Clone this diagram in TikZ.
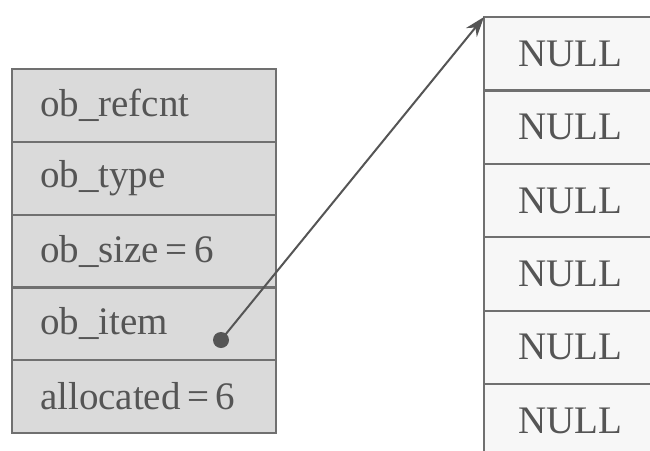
\documentclass[tikz,border=0pt]{standalone}
\usepackage{fontspec}
\setmainfont{Liberation Serif}
\usepackage{xcolor}
\usepackage{tikz}
\usetikzlibrary{
  arrows.meta,
  positioning
}
\definecolor{cellgray}{HTML}{DADADA}
\definecolor{cellwhite}{HTML}{F7F7F7}
\definecolor{edgegray}{HTML}{707070}
\definecolor{inkgray}{HTML}{555555}

\begin{document}
\begin{tikzpicture}[x=1pt, y=-1pt,
  every node/.style={font=\fontsize{39}{41}\selectfont, text=inkgray},
  field/.style={draw=edgegray, line width=2.2pt, fill=cellgray, outer sep=0pt,
    minimum width=264pt, minimum height=72.8pt, text width=208pt,
    inner xsep=28pt, align=left},
  slot/.style={draw=edgegray, line width=2.2pt, fill=cellwhite, outer sep=0pt,
    minimum width=172pt, minimum height=73.4pt, align=center},
  ptrdot/.style={circle, fill=inkgray, inner sep=0pt, minimum size=16pt}]
\fill[white] (0,0) rectangle (650,450);
\clip (0,0) rectangle (650,450);
% PyListObject
\node[field] (refcnt) at (144,105.4) {ob\_refcnt};
\node[field, below=0pt of refcnt] (type) {ob\_type};
\node[field, below=0pt of type] (size) {ob\_size\,=\,6};
\node[field, below=0pt of size] (item) {ob\_item};
\node[field, below=0pt of item] (alloc) {allocated\,=\,6};
% the item array
\node[slot] (n1) at (570,53.7) {NULL};
\node[slot, below=0pt of n1] (n2) {NULL};
\node[slot, below=0pt of n2] (n3) {NULL};
\node[slot, below=0pt of n3] (n4) {NULL};
\node[slot, below=0pt of n4] (n5) {NULL};
\node[slot, below=0pt of n5] (n6) {NULL};
\node[ptrdot] (ptr) at (221,340) {};
\draw[-{Stealth[length=20pt,width=14pt]}, line width=2pt, draw=inkgray] (ptr.center) -- (n1.north west);
\end{tikzpicture}
\end{document}
